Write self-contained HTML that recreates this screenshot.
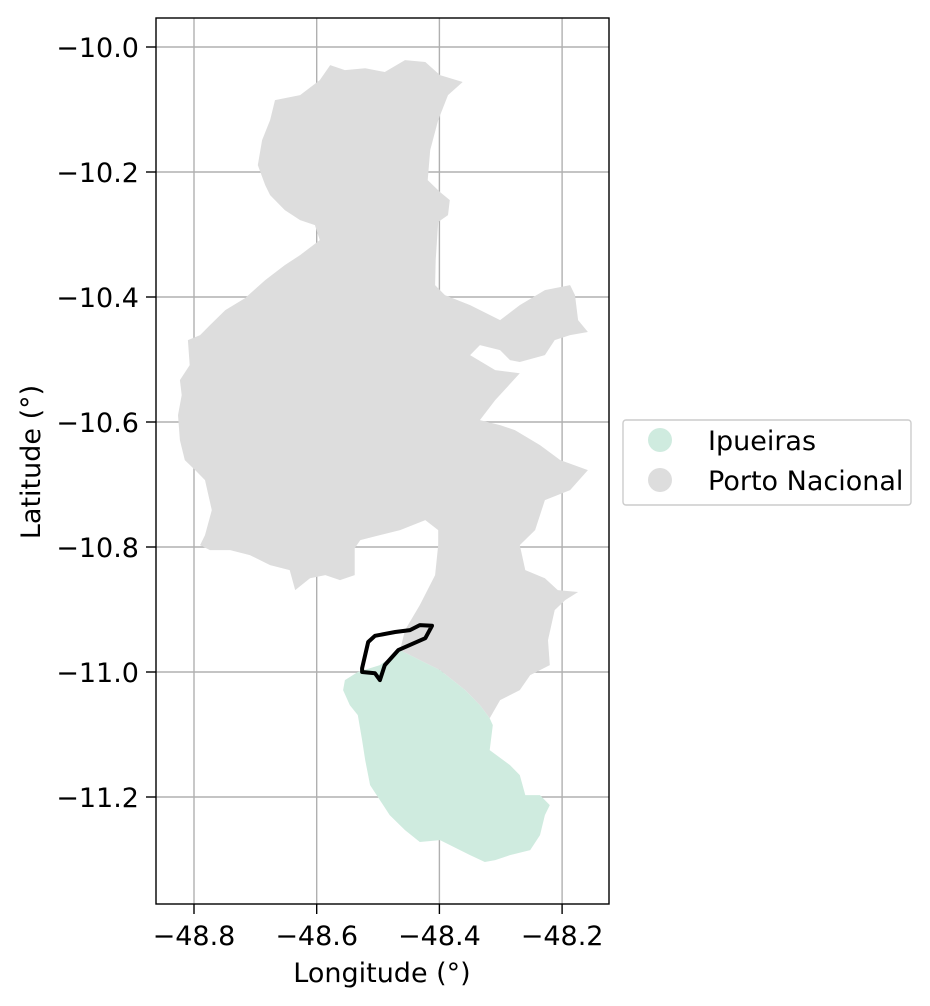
<!DOCTYPE html>
<html><head><meta charset="utf-8"><style>
body{margin:0;background:#fff;}
svg{display:block;font-family:"DejaVu Sans","Liberation Sans",sans-serif;}
</style></head><body>
<svg id="chart" width="930" height="1006" viewBox="0 0 930 1006">
<g id="grid"></g>
<g id="shapes"></g>
<rect x="156" y="18" width="453" height="886" fill="none" stroke="#000" stroke-width="1.4"/>
<g id="ticks"></g>
<text x="382" y="982" font-size="27" text-anchor="middle">Longitude (°)</text>
<text transform="translate(40,462) rotate(-90)" font-size="27" text-anchor="middle">Latitude (°)</text>
<g>
<rect x="623" y="420" width="288" height="85" rx="3" fill="#fff" stroke="#ccc" stroke-width="1.4"/>
<circle cx="660" cy="440" r="12" fill="#cfebdf"/>
<text x="708" y="450" font-size="27">Ipueiras</text>
<circle cx="660" cy="480" r="12" fill="#dddddd"/>
<text x="708" y="490" font-size="27">Porto Nacional</text>
</g>
</svg>
<script>
const xTicks=[-48.8,-48.6,-48.4,-48.2];
const yTicks=[-10.0,-10.2,-10.4,-10.6,-10.8,-11.0,-11.2];
const portoLon=[-48.578,-48.554,-48.521,-48.489,-48.456,-48.423,-48.399,-48.362,-48.386,-48.402,-48.415,-48.419,-48.399,-48.383,-48.386,-48.402,-48.406,-48.407,-48.391,-48.350,-48.301,-48.269,-48.228,-48.187,-48.179,-48.174,-48.158,-48.187,-48.212,-48.228,-48.269,-48.285,-48.301,-48.334,-48.350,-48.309,-48.269,-48.309,-48.334,-48.301,-48.277,-48.236,-48.203,-48.158,-48.187,-48.228,-48.244,-48.269,-48.260,-48.228,-48.207,-48.174,-48.195,-48.212,-48.223,-48.220,-48.252,-48.269,-48.301,-48.318,-48.334,-48.358,-48.399,-48.432,-48.464,-48.456,-48.432,-48.407,-48.402,-48.402,-48.423,-48.464,-48.497,-48.529,-48.538,-48.538,-48.562,-48.586,-48.611,-48.635,-48.644,-48.676,-48.709,-48.741,-48.774,-48.790,-48.782,-48.771,-48.782,-48.798,-48.815,-48.823,-48.826,-48.820,-48.823,-48.807,-48.810,-48.790,-48.774,-48.749,-48.717,-48.684,-48.652,-48.627,-48.595,-48.603,-48.627,-48.652,-48.676,-48.684,-48.696,-48.689,-48.676,-48.668,-48.627,-48.595];
const portoLat=[-10.029,-10.037,-10.034,-10.040,-10.021,-10.024,-10.045,-10.056,-10.077,-10.117,-10.165,-10.213,-10.232,-10.245,-10.269,-10.280,-10.341,-10.381,-10.397,-10.413,-10.437,-10.413,-10.389,-10.381,-10.397,-10.437,-10.456,-10.461,-10.469,-10.493,-10.504,-10.501,-10.485,-10.477,-10.493,-10.517,-10.522,-10.565,-10.597,-10.605,-10.613,-10.637,-10.661,-10.677,-10.709,-10.725,-10.773,-10.797,-10.837,-10.850,-10.869,-10.872,-10.885,-10.901,-10.949,-10.989,-11.005,-11.029,-11.045,-11.074,-11.053,-11.029,-10.997,-10.981,-10.965,-10.933,-10.893,-10.845,-10.797,-10.773,-10.757,-10.773,-10.781,-10.789,-10.802,-10.845,-10.853,-10.845,-10.850,-10.869,-10.837,-10.829,-10.813,-10.805,-10.805,-10.797,-10.781,-10.741,-10.693,-10.677,-10.661,-10.629,-10.589,-10.557,-10.533,-10.509,-10.469,-10.461,-10.445,-10.421,-10.402,-10.373,-10.349,-10.333,-10.309,-10.285,-10.277,-10.261,-10.237,-10.221,-10.189,-10.149,-10.117,-10.085,-10.077,-10.053];
const ipuLon=[-48.464,-48.432,-48.399,-48.358,-48.334,-48.318,-48.313,-48.318,-48.285,-48.269,-48.260,-48.236,-48.220,-48.228,-48.236,-48.252,-48.285,-48.309,-48.326,-48.350,-48.399,-48.432,-48.456,-48.481,-48.497,-48.513,-48.521,-48.526,-48.533,-48.546,-48.557,-48.554,-48.533,-48.497];
const ipuLat=[-10.965,-10.981,-10.997,-11.029,-11.053,-11.074,-11.085,-11.125,-11.149,-11.165,-11.197,-11.197,-11.213,-11.229,-11.261,-11.285,-11.293,-11.301,-11.304,-11.293,-11.269,-11.272,-11.253,-11.229,-11.205,-11.181,-11.141,-11.109,-11.069,-11.053,-11.029,-11.013,-11.000,-10.989];
const lineLon=[-48.526,-48.516,-48.505,-48.472,-48.448,-48.432,-48.412,-48.423,-48.467,-48.489,-48.497,-48.505,-48.526];
const lineLat=[-10.994,-10.952,-10.942,-10.936,-10.933,-10.925,-10.926,-10.946,-10.965,-10.989,-11.013,-11.002,-11.000];

const NS='http://www.w3.org/2000/svg';
function X(lon){return 194+(lon+48.8)*613.5;}
function Y(lat){return 47-(lat+10)*625;}
function mk(tag,attrs,parent){const e=document.createElementNS(NS,tag);for(const k in attrs)e.setAttribute(k,attrs[k]);parent.appendChild(e);return e;}
function pts(lo,la){return lo.map((v,i)=>X(v).toFixed(1)+','+Y(la[i]).toFixed(1)).join(' ');}
const grid=document.getElementById('grid'),ticks=document.getElementById('ticks'),shapes=document.getElementById('shapes');
xTicks.forEach(t=>{const x=X(t);
 const g=mk('line',{x1:x,x2:x,y1:18,y2:904,stroke:'#b0b0b0','stroke-width':1.4},grid);
 
 
 const tk=mk('line',{x1:x,x2:x,y1:904,y2:914,stroke:'#000','stroke-width':1.4},ticks);
 
 
 const tx=mk('text',{x:x,y:945,'font-size':27,'text-anchor':'middle'},ticks);
 tx.textContent='\u2212'+Math.abs(t).toFixed(1);
 
 
});
yTicks.forEach(t=>{const y=Y(t);
 const g=mk('line',{x1:156,x2:609,y1:y,y2:y,stroke:'#b0b0b0','stroke-width':1.4},grid);
 
 
 const tk=mk('line',{x1:146,x2:156,y1:y,y2:y,stroke:'#000','stroke-width':1.4},ticks);
 
 
 const tx=mk('text',{x:139,y:y+10,'font-size':27,'text-anchor':'end'},ticks);
 tx.textContent='\u2212'+Math.abs(t).toFixed(1);
 
 
});
const p1=mk('polygon',{points:pts(portoLon,portoLat),fill:'#dddddd'},shapes);


const p2=mk('polygon',{points:pts(ipuLon,ipuLat),fill:'#cfebdf'},shapes);


const p3=mk('polygon',{points:pts(lineLon,lineLat),fill:'none',stroke:'#000','stroke-width':4,'stroke-linejoin':'round'},shapes);


</script>
</body></html>
